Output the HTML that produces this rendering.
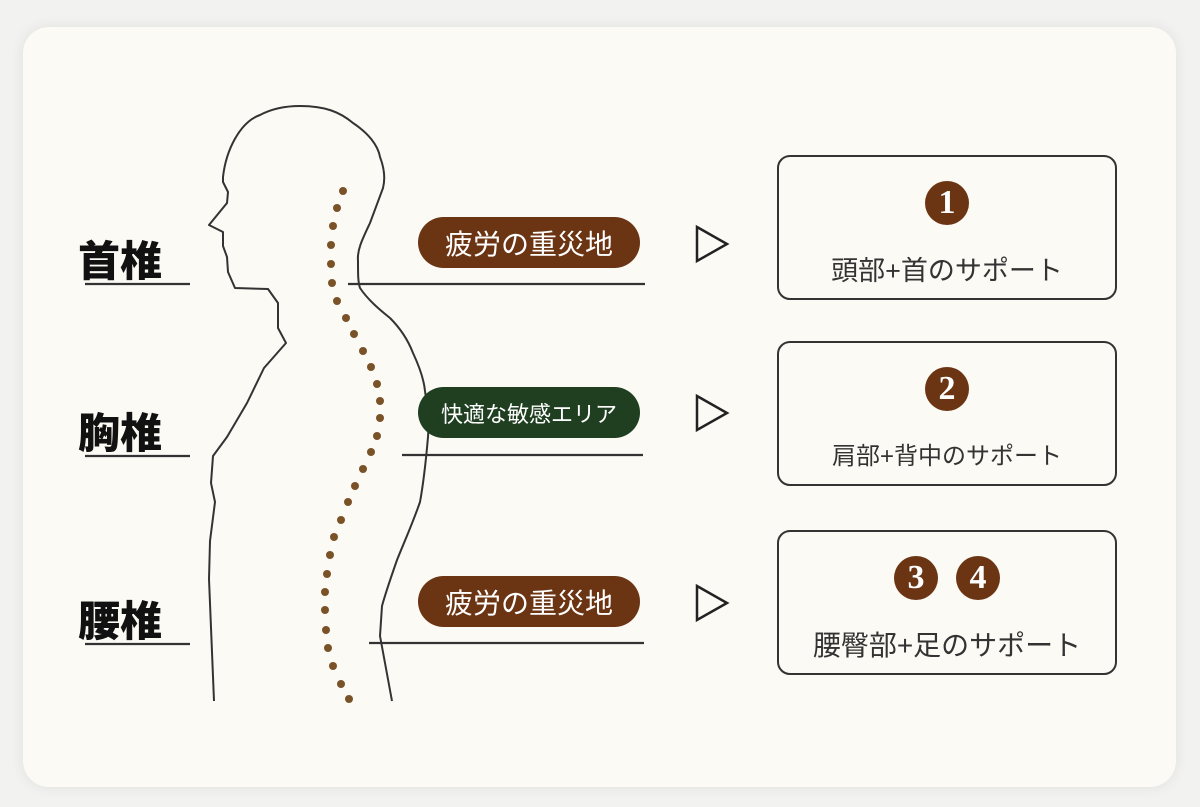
<!DOCTYPE html>
<html><head><meta charset="utf-8"><style>
html,body{margin:0;padding:0;width:1200px;height:807px;background:#f2f2f1;overflow:hidden}
.card{position:absolute;left:23px;top:27px;width:1153px;height:760px;background:#fbfaf5;border-radius:26px;box-shadow:0 0 14px rgba(0,0,0,0.08)}
.t{position:absolute;font-family:"Liberation Sans","Noto Sans CJK JP",sans-serif;white-space:nowrap}
.lab{font-size:42px;font-weight:900;color:#111;left:78px}
.pill{position:absolute;left:418px;width:222px;height:51px;border-radius:26px;color:#fff;font-family:"Liberation Sans","Noto Sans CJK JP",sans-serif;display:flex;align-items:center;justify-content:center}
.box{position:absolute;left:777px;border:2.5px solid #333;border-radius:13px;box-sizing:border-box;width:340px;height:145px}
.bt{position:absolute;left:0;right:0;text-align:center;font-family:"Liberation Sans","Noto Sans CJK JP",sans-serif;color:#333}
.num{position:absolute;width:44px;height:44px;border-radius:50%;background:#6b3514;color:#fff;font-family:"Liberation Serif",serif;font-size:34px;font-weight:bold;line-height:44px;text-align:center}
</style></head><body>
<div class="card"></div>
<svg width="1200" height="807" style="position:absolute;left:0;top:0">
<g fill="none" stroke="#333" stroke-width="2" stroke-linejoin="round">
<path d="M214,701 L209,579 L210,541 L215,502 L211,483 L213,456 L227,437 L247,403 L264,368 L286,343 L278,328 L278,303 L268,289 L235,288 L228,272 L227,257 L223,246 L223,232 L209,225 L227,203 L228,192 L223,182 L223,177 C226,150 240,122 260,115 C275,107 290,106 300,106 C325,106 340,112 353,123 C368,133 378,145 380,157 C385,170 385,180 383,188 L370,223 C362,240 357,250 358,261 C358,275 358,282 360,288 C368,300 380,310 390,318 C400,328 408,340 413,353 C420,368 424,380 425,391 C428,410 429,425 428,437 C426,460 424,480 420,502 C412,525 405,540 397,560 C390,580 385,595 382,606 L380,636 L392,701"/>
</g>
<g stroke="#333" stroke-width="2.2">
<line x1="85" y1="284" x2="190" y2="284"/><line x1="85" y1="456" x2="190" y2="456"/><line x1="85" y1="644" x2="190" y2="644"/>
<line x1="348" y1="284" x2="645" y2="284"/><line x1="402" y1="455" x2="643" y2="455"/><line x1="369" y1="643" x2="644" y2="643"/>
</g>
<g fill="none" stroke="#222" stroke-width="2.5">
<polygon points="697,227 727,244 697,261"/>
<polygon points="697,396 727,413 697,430"/>
<polygon points="697,586 727,603 697,620"/>
</g>
<g fill="#7a5228">
<circle cx="343" cy="191" r="4"/><circle cx="337" cy="208" r="4"/><circle cx="333" cy="226" r="4"/><circle cx="331" cy="245" r="4"/><circle cx="331" cy="264" r="4"/><circle cx="332" cy="283" r="4"/><circle cx="337" cy="301" r="4"/><circle cx="346" cy="318" r="4"/><circle cx="354" cy="334" r="4"/><circle cx="363" cy="351" r="4"/><circle cx="371" cy="367" r="4"/><circle cx="377" cy="384" r="4"/><circle cx="380" cy="401" r="4"/><circle cx="380" cy="418" r="4"/><circle cx="377" cy="436" r="4"/><circle cx="371" cy="452" r="4"/><circle cx="363" cy="469" r="4"/><circle cx="355" cy="486" r="4"/><circle cx="348" cy="502" r="4"/><circle cx="341" cy="520" r="4"/><circle cx="334" cy="537" r="4"/><circle cx="330" cy="555" r="4"/><circle cx="327" cy="574" r="4"/><circle cx="325" cy="592" r="4"/><circle cx="325" cy="610" r="4"/><circle cx="326" cy="630" r="4"/><circle cx="328" cy="648" r="4"/><circle cx="333" cy="666" r="4"/><circle cx="341" cy="684" r="4"/><circle cx="349" cy="699" r="4"/>
</g>
</svg>
<div class="t lab" style="top:228px">首椎</div>
<div class="t lab" style="top:400px">胸椎</div>
<div class="t lab" style="top:588px">腰椎</div>
<div class="pill" style="top:217px;background:#6b3514;font-size:28px">疲労の重災地</div>
<div class="pill" style="top:387px;background:#1f3f20;font-size:22px">快適な敏感エリア</div>
<div class="pill" style="top:576px;background:#6b3514;font-size:28px">疲労の重災地</div>
<div class="box" style="top:155px"><div class="num" style="left:146px;top:24px">1</div><div class="bt" style="top:92px;font-size:27px">頭部+首のサポート</div></div>
<div class="box" style="top:341px"><div class="num" style="left:146px;top:24px">2</div><div class="bt" style="top:93px;font-size:24px">肩部+背中のサポート</div></div>
<div class="box" style="top:530px"><div class="num" style="left:115px;top:24px">3</div><div class="num" style="left:177px;top:24px">4</div><div class="bt" style="top:92px;font-size:28px">腰臀部+足のサポート</div></div>
</body></html>
